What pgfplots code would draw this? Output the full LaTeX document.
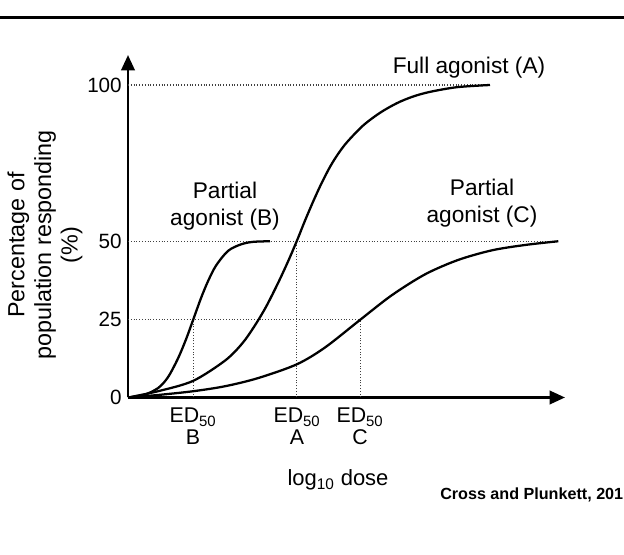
\documentclass[border=0pt]{standalone}
\usepackage{fontspec}
\setmainfont{Liberation Sans}
\usepackage{pgfplots}
\pgfplotsset{compat=1.18}
\usetikzlibrary{arrows.meta}

\begin{document}
\begin{tikzpicture}
\path[use as bounding box] (0,0) rectangle (468pt,416.25pt);
\draw[line width=2.3pt] (0,403.1pt) -- (468pt,403.1pt);
\begin{axis}[
  at={(96pt,118.125pt)}, anchor=south west,
  scale only axis, width=327.75pt, height=256.875pt,
  xmin=0, xmax=437, ymin=0, ymax=109.6,
  enlargelimits=false, clip=false,
  axis lines=left,
  axis line style={line width=2pt, -{Triangle[length=11.5pt,width=10pt]}},
  xtick=\empty,
  ytick={0,25,50,100},
  yticklabels={0,25,50,100},
  major tick length=0pt,
  yticklabel style={font=\fontsize{15.5}{18}\selectfont, inner sep=4.5pt},
  /pgf/number format/assume math mode=true,
  guide/.style={black!75, line width=0.8pt, dash pattern=on 0.8pt off 1.3pt},
  curve/.style={black, line width=1.7pt, smooth, tension=0.5},
]
% guide lines
\addplot[guide] coordinates {(0,100) (362,100)};
\addplot[guide] coordinates {(0,50) (430.3,50)};
\addplot[guide] coordinates {(0,25) (232.7,25)};
\addplot[guide] coordinates {(65.3,0) (65.3,25)};
\addplot[guide] coordinates {(168.7,0) (168.7,50)};
\addplot[guide] coordinates {(232.7,0) (232.7,25)};
% Partial agonist (B)
\addplot[curve] coordinates {(0,0) (15,0.7) (30,3.0) (40,6.5) (50,12.5) (58,18.6) (65.3,25) (73,31.8) (80,37.2) (88,42.2) (100,46.9) (113,49.0) (125,49.8) (142,50)};
% Full agonist (A)
\addplot[curve] coordinates {(0,0) (30,2.0) (65,5.3) (97,11.8) (114,17.2) (126,22.6) (138,29.0) (150,36.6) (160,43.5) (168.7,50) (177,56.6) (185,62.6) (193,68.2) (202,73.8) (210,77.9) (219,81.7) (235,87) (252,91.1) (269,94.2) (285,96.3) (302,97.8) (329,99.3) (362,100)};
% Partial agonist (C)
\addplot[curve] coordinates {(0,0) (30,0.8) (65,2.0) (97,3.6) (130,6.2) (168.7,10.6) (197,16.0) (232.7,25) (263.7,32.7) (297,39.4) (330,44.0) (364,47.1) (397,48.8) (430.3,50)};
\end{axis}
\node[rotate=90, align=center, font=\fontsize{17.5}{20}\selectfont] at (33.75pt,232.5pt) {Percentage of\\population responding\\(\%)};
\node[font=\fontsize{17}{20}\selectfont] at (351.75pt,365.25pt) {Full agonist (A)};
\node[align=center, font=\fontsize{17}{20}\selectfont] at (168.75pt,261.75pt) {Partial\\agonist (B)};
\node[align=center, font=\fontsize{17}{20}\selectfont] at (361.5pt,264pt) {Partial\\agonist (C)};
\node[align=center, anchor=north, inner sep=0pt, font=\fontsize{16}{16.5}\selectfont] at (144.75pt,110.25pt) {ED\textsubscript{50}\\B};
\node[align=center, anchor=north, inner sep=0pt, font=\fontsize{16}{16.5}\selectfont] at (222.75pt,110.25pt) {ED\textsubscript{50}\\A};
\node[align=center, anchor=north, inner sep=0pt, font=\fontsize{16}{16.5}\selectfont] at (270pt,110.25pt) {ED\textsubscript{50}\\C};
\node[anchor=base, font=\fontsize{16.5}{20}\selectfont] at (253.5pt,51.75pt) {log\textsubscript{10} dose};
\node[anchor=west, inner sep=0pt, font=\fontsize{12.1}{14}\selectfont\bfseries] at (330pt,45pt) {Cross and Plunkett, 201};
\end{tikzpicture}
\end{document}
